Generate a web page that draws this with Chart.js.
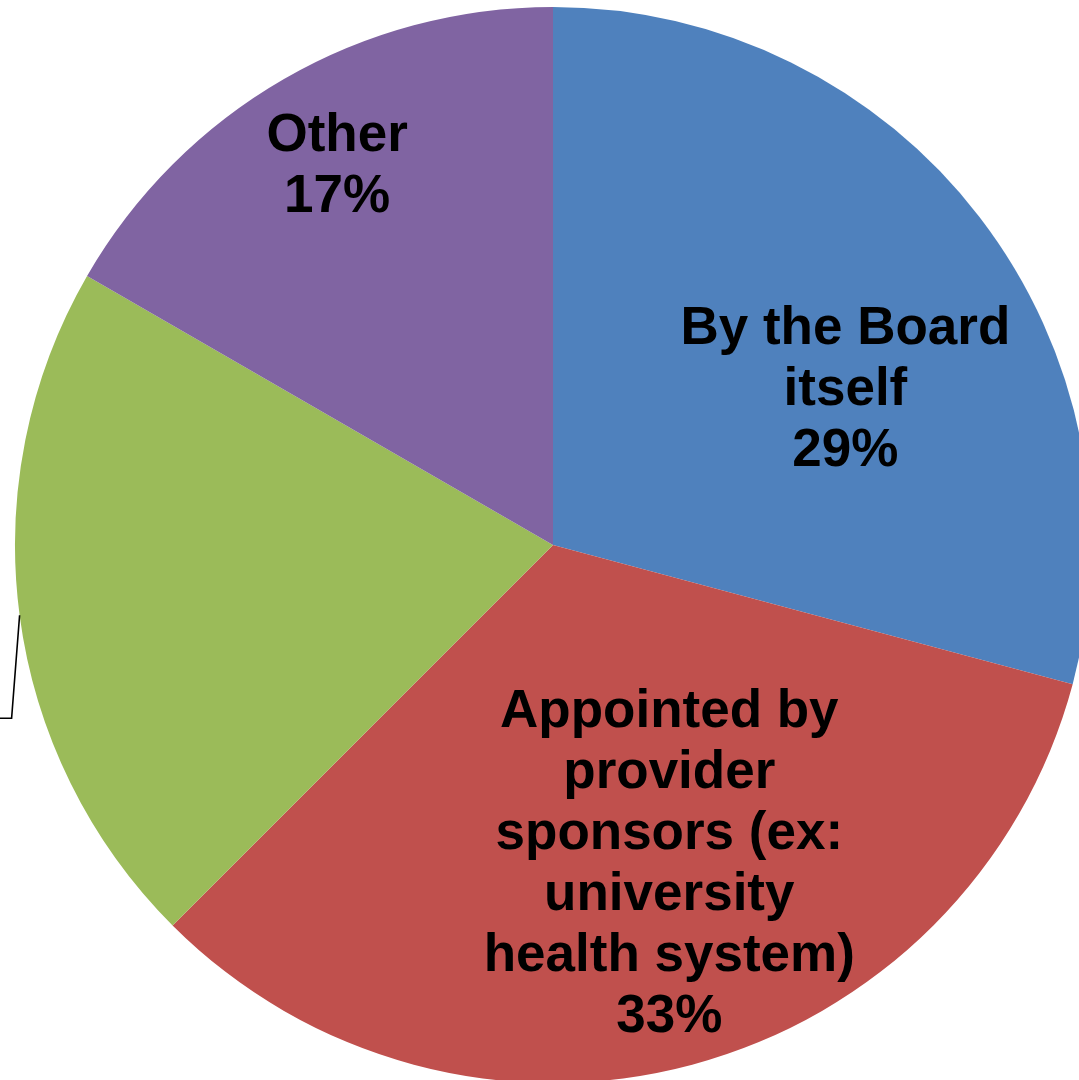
<!DOCTYPE html>
<html>
<head>
<meta charset="utf-8">
<title>Board selection</title>
<script src="https://cdn.jsdelivr.net/npm/chart.js@4.4.1/dist/chart.umd.min.js"></script>
<style>
    html, body {
        margin: 0;
        padding: 0;
        background: #ffffff;
        overflow: hidden;
        width: 1079px;
        height: 1080px;
    }
    #board-pie {
        display: block;
    }
</style>
</head>
<body>
<canvas id="board-pie" width="1106" height="1090"></canvas>
<script>
    "use strict";

    // Slices, clockwise from 12 o'clock
    const categories = [
        "By the Board itself",
        "Appointed by provider sponsors (ex: university health system)",
        "Elected",
        "Other",
    ];
    // Responses per answer (24 in total)
    const responses = [7, 8, 5, 4];
    const sliceColors = ["#4F81BD", "#C0504D", "#9BBB59", "#8064A2"];

    // Label lines as they wrap inside each slice (null = label sits outside the plot)
    const labelLines = [
        ["By the Board", "itself"],
        ["Appointed by", "provider", "sponsors (ex:", "university", "health system)"],
        null,
        ["Other"],
    ];

    // Where each in-slice label is anchored: angle shift from the slice middle (deg) and radius fraction
    const labelAnchor = [
        { shift: 9.6, r: 0.615 },
        { shift: -5, r: 0.632 },
        null,
        { shift: 0.3, r: 0.81 },
    ];

    const LABEL_FONT = "bold 53px 'Liberation Sans', Arial, sans-serif";
    const LINE_HEIGHT = 61;

    const total = responses.reduce(function (a, b) {
        return a + b;
    }, 0);

    function percentLabel(i) {
        return Math.round((responses[i] / total) * 100) + "%";
    }

    /**
     * Draw data labels and the leader line for the outside label
     */
    const sliceLabels = {
        id: "sliceLabels",
        afterDatasetsDraw: function (chart) {
            const ctx = chart.ctx;
            const meta = chart.getDatasetMeta(0);

            ctx.save();
            ctx.font = LABEL_FONT;
            ctx.fillStyle = "#000000";
            ctx.textAlign = "center";
            ctx.textBaseline = "middle";

            meta.data.forEach(function (arc, i) {
                const p = arc.getProps(
                    ["x", "y", "startAngle", "endAngle", "outerRadius"],
                    true
                );
                const mid = (p.startAngle + p.endAngle) / 2;

                if (!labelLines[i]) {
                    // Leader line running off toward the label on the left
                    const sx = p.x + Math.cos(mid) * p.outerRadius;
                    const sy = p.y + Math.sin(mid) * p.outerRadius;
                    ctx.beginPath();
                    ctx.strokeStyle = "#000000";
                    ctx.lineWidth = 1.6;
                    ctx.moveTo(sx, sy);
                    ctx.lineTo(sx - 8, sy + 103);
                    ctx.lineTo(sx - 40, sy + 103);
                    ctx.stroke();
                    return;
                }

                const anc = labelAnchor[i];
                const a = mid + (anc.shift * Math.PI) / 180;
                const cx = p.x + Math.cos(a) * p.outerRadius * anc.r;
                const cy = p.y + Math.sin(a) * p.outerRadius * anc.r;

                const lines = labelLines[i].concat([percentLabel(i)]);
                const top = cy - ((lines.length - 1) * LINE_HEIGHT) / 2;
                lines.forEach(function (line, k) {
                    ctx.fillText(line, cx, top + k * LINE_HEIGHT);
                });
            });

            ctx.restore();
        },
    };

    const canvas = document.getElementById("board-pie");

    new Chart(canvas.getContext("2d"), {
        type: "pie",
        data: {
            labels: categories,
            datasets: [
                {
                    data: responses,
                    backgroundColor: sliceColors,
                    borderWidth: 0,
                },
            ],
        },
        options: {
            responsive: false,
            animation: false,
            layout: {
                padding: { top: 7, bottom: 7, left: 0, right: 0 },
            },
            plugins: {
                legend: { display: false },
                tooltip: { enabled: false },
            },
        },
        plugins: [sliceLabels],
    });
</script>
</body>
</html>
